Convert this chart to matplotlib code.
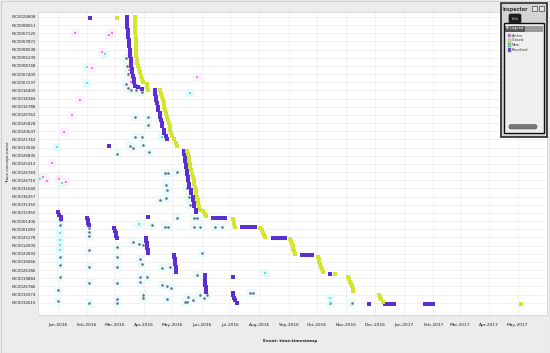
import matplotlib
matplotlib.use("Agg")
import matplotlib.pyplot as plt
import matplotlib.dates as mdates
import pandas as pd
from matplotlib.patches import Rectangle, FancyBboxPatch

trace_labels = [
    "INC0024808", "INC0008551", "INC0007120", "INC0007872", "INC0008538", "INC0006239",
    "INC0008748", "INC0007400", "INC0007237", "INC0016400", "INC0018184", "INC0016788",
    "INC0020762", "INC0025828", "INC0020637", "INC0021762", "INC0013046", "INC0026835",
    "INC0025412", "INC0026769", "INC0026710", "INC0031640", "INC0036257", "INC0031350",
    "INC0015950", "INC0001406", "INC0001082", "INC0025278", "INC0014000", "INC0022692",
    "INC0015666", "INC0026186", "INC0019884", "INC0026786", "INC0015974", "INC0032610",
]
month_ticks = pd.date_range("2016-01-01", "2017-05-01", freq="MS")

# (timestamp, trace row)
closed = [
    ("2016-03-03", 0.1),
    ("2016-03-23", 0.0), ("2016-03-23", 0.4), ("2016-03-23", 0.8), ("2016-03-23", 1.2),
    ("2016-03-23", 1.6), ("2016-03-23", 2.0), ("2016-03-24", 2.4), ("2016-03-24", 2.8),
    ("2016-03-24", 3.2), ("2016-03-24", 3.6), ("2016-03-24", 4.0), ("2016-03-24", 4.4),
    ("2016-03-24", 4.8), ("2016-03-25", 5.2), ("2016-03-25", 5.6), ("2016-03-26", 6.0),
    ("2016-03-27", 6.4), ("2016-03-28", 6.8), ("2016-03-29", 7.2), ("2016-03-30", 7.6),
    ("2016-03-31", 8.0), ("2016-04-04", 8.2), ("2016-04-04", 8.6), ("2016-04-05", 9.0),
    ("2016-04-18", 9.0), ("2016-04-19", 9.4), ("2016-04-20", 9.8), ("2016-04-21", 10.2),
    ("2016-04-22", 10.6), ("2016-04-22", 11.0), ("2016-04-23", 11.4), ("2016-04-24", 11.8),
    ("2016-04-25", 12.2), ("2016-04-26", 12.6), ("2016-04-27", 13.0), ("2016-04-28", 13.4),
    ("2016-04-29", 13.8), ("2016-04-30", 14.2), ("2016-05-01", 14.6), ("2016-05-03", 15.0),
    ("2016-05-05", 15.4), ("2016-05-06", 15.8),
    ("2016-05-17", 16.4), ("2016-05-18", 16.8), ("2016-05-19", 17.2), ("2016-05-19", 17.6),
    ("2016-05-20", 18.0), ("2016-05-20", 18.4), ("2016-05-21", 18.8), ("2016-05-22", 19.2),
    ("2016-05-23", 19.6), ("2016-05-24", 20.0), ("2016-05-24", 20.4), ("2016-05-25", 20.8),
    ("2016-05-26", 21.2), ("2016-05-26", 21.6), ("2016-05-27", 22.0), ("2016-05-28", 22.4),
    ("2016-05-28", 22.8), ("2016-05-29", 23.2), ("2016-05-30", 23.6),
    ("2016-06-02", 23.8), ("2016-06-04", 24.1), ("2016-06-06", 24.4),
    ("2016-07-04", 24.8), ("2016-07-05", 25.1), ("2016-07-05", 25.4), ("2016-07-06", 25.7),
    ("2016-08-02", 25.8), ("2016-08-04", 26.1), ("2016-08-05", 26.4), ("2016-08-06", 26.7),
    ("2016-08-07", 27.0),
    ("2016-09-02", 27.2), ("2016-09-03", 27.5), ("2016-09-04", 27.8), ("2016-09-05", 28.1),
    ("2016-09-06", 28.4), ("2016-09-07", 28.7), ("2016-09-08", 29.0),
    ("2016-10-02", 29.4), ("2016-10-03", 29.7), ("2016-10-03", 30.0), ("2016-10-04", 30.3),
    ("2016-10-05", 30.6), ("2016-10-06", 30.9), ("2016-10-07", 31.2), ("2016-10-20", 31.5),
    ("2016-11-03", 31.8), ("2016-11-04", 32.1), ("2016-11-05", 32.4), ("2016-11-06", 32.7),
    ("2016-11-07", 33.0), ("2016-11-08", 33.3), ("2016-11-08", 33.6),
    ("2016-12-05", 34.0), ("2016-12-06", 34.3), ("2016-12-08", 34.6), ("2016-12-10", 34.9),
    ("2017-05-04", 35.1),
]

resolved = [
    ("2016-02-04", 0.1),
    ("2016-03-14", 0.0), ("2016-03-14", 0.4), ("2016-03-14", 0.8), ("2016-03-14", 1.2),
    ("2016-03-15", 1.6), ("2016-03-15", 2.0), ("2016-03-15", 2.4), ("2016-03-16", 2.8),
    ("2016-03-16", 3.2), ("2016-03-16", 3.6), ("2016-03-17", 4.0), ("2016-03-17", 4.4),
    ("2016-03-17", 4.8), ("2016-03-18", 5.2), ("2016-03-18", 5.6), ("2016-03-18", 6.0),
    ("2016-03-19", 6.4), ("2016-03-19", 6.8), ("2016-03-20", 7.2), ("2016-03-21", 7.6),
    ("2016-03-21", 8.0), ("2016-03-22", 8.4), ("2016-03-26", 8.6), ("2016-03-30", 8.8),
    ("2016-04-13", 9.0), ("2016-04-13", 9.4), ("2016-04-14", 9.8), ("2016-04-14", 10.2),
    ("2016-04-15", 10.6), ("2016-04-16", 11.0), ("2016-04-16", 11.4), ("2016-04-18", 11.8),
    ("2016-04-18", 12.2), ("2016-04-19", 12.6), ("2016-04-20", 13.0), ("2016-04-20", 13.4),
    ("2016-04-22", 13.8), ("2016-04-22", 14.2), ("2016-04-24", 14.6), ("2016-04-25", 14.9),
    ("2016-02-24", 15.8),
    ("2016-05-13", 16.4), ("2016-05-13", 16.8), ("2016-05-14", 17.2), ("2016-05-14", 17.6),
    ("2016-05-15", 18.0), ("2016-05-15", 18.4), ("2016-05-17", 18.8), ("2016-05-17", 19.2),
    ("2016-05-18", 19.6), ("2016-05-18", 20.0), ("2016-05-19", 20.4), ("2016-05-19", 20.8),
    ("2016-05-21", 21.2), ("2016-05-21", 21.6), ("2016-05-23", 22.0), ("2016-05-23", 22.4),
    ("2016-05-24", 22.8), ("2016-05-24", 23.2), ("2016-05-26", 23.6), ("2016-05-26", 23.9),
    ("2016-04-05", 24.5),
    ("2016-06-13", 24.6), ("2016-06-16", 24.6), ("2016-06-19", 24.6), ("2016-06-22", 24.6),
    ("2016-06-26", 24.6),
    ("2016-07-14", 25.7), ("2016-07-17", 25.7), ("2016-07-20", 25.7), ("2016-07-24", 25.7),
    ("2016-07-27", 25.7),
    ("2016-08-15", 27.1), ("2016-08-19", 27.1), ("2016-08-22", 27.1), ("2016-08-25", 27.1),
    ("2016-08-28", 27.1),
    ("2016-09-15", 29.2), ("2016-09-18", 29.2), ("2016-09-21", 29.2), ("2016-09-24", 29.2),
    ("2016-09-26", 29.2),
    ("2016-10-15", 31.5), ("2016-11-25", 35.2),
    ("2016-12-12", 35.1), ("2016-12-15", 35.1), ("2016-12-18", 35.1), ("2016-12-21", 35.1),
    ("2017-01-23", 35.1), ("2017-01-26", 35.1), ("2017-01-29", 35.1), ("2017-02-01", 35.1),
    # monthly batches
    ("2016-01-01", 23.9), ("2016-01-02", 24.2), ("2016-01-04", 24.5), ("2016-01-04", 24.8),
    ("2016-02-01", 24.6), ("2016-02-02", 24.9), ("2016-02-02", 25.2), ("2016-02-03", 25.5),
    ("2016-02-29", 25.9), ("2016-03-01", 26.2), ("2016-03-02", 26.5), ("2016-03-02", 26.8),
    ("2016-03-03", 27.1),
    ("2016-04-03", 27.1), ("2016-04-03", 27.4), ("2016-04-04", 27.7), ("2016-04-04", 28.0),
    ("2016-04-04", 28.3), ("2016-04-05", 28.6), ("2016-04-05", 28.9),
    ("2016-05-03", 29.1), ("2016-05-03", 29.4), ("2016-05-04", 29.7), ("2016-05-04", 30.0),
    ("2016-05-04", 30.3), ("2016-05-05", 30.6), ("2016-05-05", 30.9), ("2016-05-05", 31.2),
    ("2016-06-04", 31.6), ("2016-06-04", 31.9), ("2016-06-05", 32.2), ("2016-06-05", 32.5),
    ("2016-06-05", 32.8), ("2016-06-06", 33.1), ("2016-06-06", 33.4), ("2016-06-06", 33.7),
    ("2016-07-04", 31.9),
    ("2016-07-04", 33.8), ("2016-07-04", 34.1), ("2016-07-05", 34.4), ("2016-07-06", 34.7),
    ("2016-07-08", 35.0),
]

active = [
    ("2016-01-19", 2.0), ("2016-02-24", 2.2), ("2016-02-27", 2.0), ("2016-02-17", 4.3),
    ("2016-02-06", 6.2), ("2016-01-24", 10.2), ("2016-01-16", 12.0), ("2016-01-08", 14.1),
    ("2015-12-26", 17.9), ("2015-12-16", 19.6), ("2015-12-20", 20.1), ("2016-01-02", 19.8),
    ("2016-01-10", 20.2),
    ("2016-03-17", 4.5), ("2016-03-18", 5.5), ("2016-03-16", 6.5), ("2016-03-19", 7.5),
    ("2016-03-18", 8.0), ("2016-05-27", 7.3),
]

new = [
    ("2016-02-01", 6.1), ("2016-02-01", 8.1), ("2016-02-20", 4.6), ("2015-12-31", 15.9),
    ("2015-12-13", 19.8), ("2016-01-05", 20.3),
    ("2016-05-20", 9.3), ("2016-04-20", 14.7),
    ("2016-01-03", 26.4), ("2016-01-03", 27.3), ("2016-01-03", 27.9), ("2016-01-03", 28.5),
    ("2016-03-27", 25.3), ("2016-08-07", 31.3), ("2016-10-15", 34.4), ("2016-10-15", 35.0),
]

# dots where several states overlap
mixed = [
    ("2016-03-13", 5.0), ("2016-03-14", 6.0), ("2016-03-15", 7.0), ("2016-03-13", 8.2),
    ("2016-03-15", 8.7), ("2016-03-18", 8.9), ("2016-03-24", 9.0), ("2016-03-30", 9.2),
    ("2016-03-22", 12.2), ("2016-04-05", 12.2), ("2016-04-05", 13.2), ("2016-03-22", 14.7),
    ("2016-03-30", 14.7), ("2016-03-31", 15.7), ("2016-04-06", 16.5), ("2016-03-03", 16.8),
    ("2016-03-17", 15.8), ("2016-03-20", 16.0),
    ("2016-04-23", 19.1), ("2016-04-26", 19.1), ("2016-05-06", 19.0), ("2016-04-24", 20.6),
    ("2016-04-25", 21.2), ("2016-04-18", 22.4), ("2016-04-24", 22.2), ("2016-05-17", 21.0),
    ("2016-05-19", 22.0), ("2016-05-20", 23.0), ("2016-05-24", 24.6), ("2016-05-27", 24.6),
    ("2016-05-06", 24.6), ("2016-04-10", 25.5), ("2016-04-23", 25.7), ("2016-04-26", 25.7),
    ("2016-05-24", 25.7), ("2016-05-30", 25.7), ("2016-06-15", 25.7), ("2016-06-22", 25.7),
    ("2016-01-03", 24.9), ("2016-01-03", 25.5), ("2016-01-03", 29.4), ("2016-01-03", 30.4),
    ("2016-01-03", 31.9), ("2016-01-01", 33.4), ("2016-01-01", 34.8),
    ("2016-02-03", 25.8), ("2016-02-03", 26.3), ("2016-02-03", 26.8), ("2016-02-03", 28.5),
    ("2016-02-03", 30.6), ("2016-02-03", 32.6), ("2016-02-03", 35.0),
    ("2016-03-03", 28.2), ("2016-03-03", 29.4), ("2016-03-03", 30.6), ("2016-03-03", 32.6),
    ("2016-03-03", 34.6), ("2016-03-03", 35.0),
    ("2016-03-20", 27.6), ("2016-03-27", 27.8), ("2016-03-31", 27.9), ("2016-03-28", 29.7),
    ("2016-03-30", 30.2), ("2016-03-28", 31.9), ("2016-03-28", 32.4), ("2016-04-04", 31.9),
    ("2016-03-31", 34.0), ("2016-03-31", 34.4),
    ("2016-04-20", 30.7), ("2016-04-28", 30.6), ("2016-04-20", 32.8), ("2016-04-25", 33.0),
    ("2016-04-30", 33.2), ("2016-05-14", 34.9), ("2016-05-18", 34.3), ("2016-05-27", 31.6),
    ("2016-06-01", 28.9), ("2016-05-30", 34.0), ("2016-06-03", 34.4), ("2016-06-07", 34.0),
    ("2016-04-25", 34.6), ("2016-05-16", 34.9), ("2016-05-23", 34.7),
    ("2016-07-22", 33.8), ("2016-07-25", 33.8), ("2016-10-15", 35.0), ("2016-11-07", 35.0),
]

colors = {
    "Active": "#ea7fe0",
    "Closed": "#d3e52c",
    "New": "#5fe3d3",
    "Resolved": "#5a2fd4",
}
swatches = {
    "Active": "#d77ee6",
    "Closed": "#c9f08a",
    "New": "#5fdca0",
    "Resolved": "#5a3de0",
}


def unpack(points):
    dates = pd.to_datetime([p[0] for p in points])
    rows = [p[1] for p in points]
    return dates, rows


fig = plt.figure(figsize=(5.5, 3.53), dpi=100, facecolor="#ececec")
ax = fig.add_axes([38 / 550, 38 / 353, 509 / 550, 303 / 353])
ax.set_facecolor("white")

# faint halos behind single dots
for pts, halo in [(new, "#e2faf8"), (mixed, "#e8fbfa"), (active, "#fdeefb")]:
    d, r = unpack(pts)
    ax.scatter(d, r, s=34, marker="s", color=halo, lw=0, zorder=1)

d, r = unpack(mixed)
ax.scatter(d, r, s=3.5, marker="o", color="#6b6b86", lw=0, zorder=2)
d, r = unpack(new)
ax.scatter(d, r, s=3.5, marker="s", color=colors["New"], lw=0, zorder=2)
d, r = unpack(active)
ax.scatter(d, r, s=3.5, marker="s", color=colors["Active"], lw=0, zorder=2)
d, r = unpack(resolved)
ax.scatter(d, r, s=5.5, marker="s", color=colors["Resolved"], lw=0, zorder=3)
d, r = unpack(closed)
ax.scatter(d, r, s=6, marker="s", color=colors["Closed"], lw=0, zorder=3)

ax.set_xlim(pd.Timestamp("2015-12-11"), pd.Timestamp("2017-06-01"))
ax.set_ylim(36.5, -0.6)
ax.set_xticks(month_ticks)
ax.xaxis.set_major_formatter(mdates.DateFormatter("%b-%Y"))
ax.set_yticks(range(len(trace_labels)))
ax.set_yticklabels(trace_labels)
ax.tick_params(axis="x", length=0, pad=6, labelsize=3.2, colors="#222222")
ax.tick_params(axis="y", length=0, pad=1.5, labelsize=2.9, colors="#222222")
ax.grid(True, color="#ececec", lw=0.5, zorder=0)
ax.set_axisbelow(True)
for side in ax.spines:
    ax.spines[side].set_color("#cfcfcf")
    ax.spines[side].set_linewidth(0.5)

# overlay in pixel coordinates for labels and the inspector panel
ov = fig.add_axes([0, 0, 1, 1], zorder=10)
ov.set_xlim(0, 550)
ov.set_ylim(353, 0)
ov.axis("off")
ov.patch.set_alpha(0)

ov.text(8, 162, "Trace concept:name", rotation=90, ha="center", va="center",
        fontsize=3, color="#222222")
ov.text(290, 341, "Event: time:timestamp", ha="center", va="center",
        fontsize=3, fontweight="bold", color="#222222")

ov.add_patch(Rectangle((500.5, 3), 46.5, 134, facecolor="#d4d4d4",
                       edgecolor="#262626", lw=1.2))
ov.text(503, 9, "Inspector", ha="left", va="center", fontsize=3.4,
        color="#333333", fontweight="bold")
for ix in (532, 539):
    ov.add_patch(Rectangle((ix, 6), 5, 5, facecolor="#e6e6e6", edgecolor="#444444", lw=0.5))
ov.add_patch(FancyBboxPatch((509, 14), 12, 9, boxstyle="round,pad=0,rounding_size=1.5",
                            facecolor="#1e1e1e", edgecolor="#1e1e1e", lw=0.5))
ov.text(515, 18.5, "Info", ha="center", va="center", fontsize=2.6, color="#dddddd")
ov.add_patch(Rectangle((503.5, 23), 40.5, 110, facecolor="#efefef",
                       edgecolor="#111111", lw=1.0))
ov.add_patch(Rectangle((504.5, 25.5), 38.5, 6, facecolor="#5a5a5a", edgecolor="none"))
ov.add_patch(Rectangle((525, 25.5), 18, 6, facecolor="#9a9a9a", edgecolor="none"))
ov.text(506, 28.5, "▼ Legend", ha="left", va="center", fontsize=2.6, color="white")
for i, name in enumerate(["Active", "Closed", "New", "Resolved"]):
    yy = 35.7 + i * 4.7
    ov.add_patch(Rectangle((507.5, yy - 1.7), 3.4, 3.4, facecolor=swatches[name],
                           edgecolor="#888888", lw=0.3))
    ov.text(512, yy, name, ha="left", va="center", fontsize=2.6, color="#333333")
ov.add_patch(FancyBboxPatch((509, 124.5), 28, 4.5, boxstyle="round,pad=0,rounding_size=2",
                            facecolor="#777777", edgecolor="#555555", lw=0.4))
ov.add_patch(Rectangle((0.5, 0.5), 549, 352, facecolor="none", edgecolor="#d2d2d2", lw=0.8))

fig.savefig("out.png", dpi=100, facecolor=fig.get_facecolor())
plt.close(fig)
